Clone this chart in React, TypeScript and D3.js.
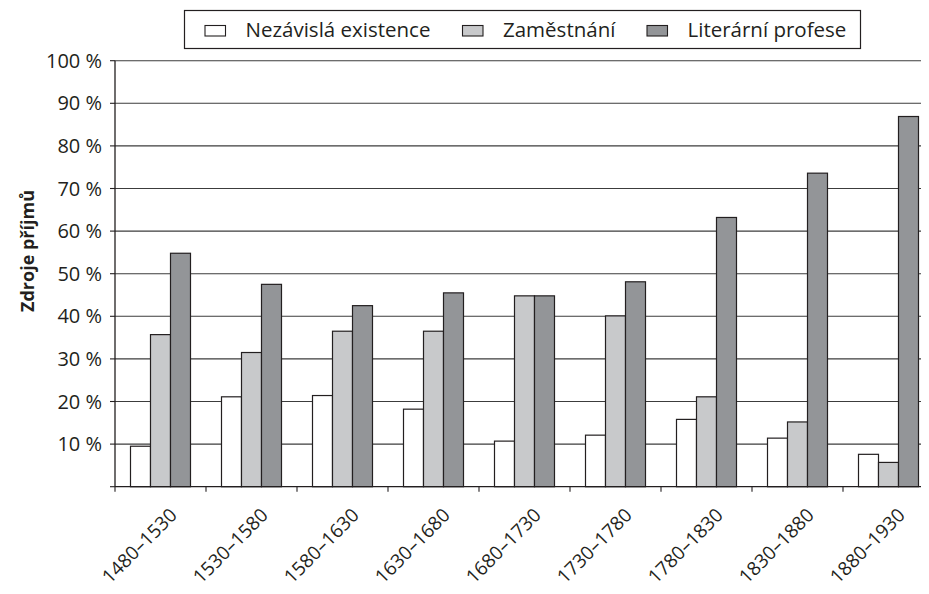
import React from "react";
import * as d3 from "d3";

const categories = ["1480–1530","1530–1580","1580–1630","1630–1680","1680–1730","1730–1780","1780–1830","1830–1880","1880–1930"];
const seriesNames = ["Nezávislá existence","Zaměstnání","Literární profese"];
const nezavisla = [9.5,21.1,21.4,18.2,10.7,12.1,15.8,11.4,7.6];
const zamestnani = [35.7,31.5,36.5,36.5,44.8,40.1,21.1,15.2,5.7];
const literarni = [54.8,47.5,42.5,45.5,44.8,48.1,63.2,73.6,86.9];
const yTicks = [10,20,30,40,50,60,70,80,90,100];
const yTitle = "Zdroje příjmů";

const fills = ["#ffffff","#c8c9cb","#939598"];
const FONT = "'Open Sans', 'DejaVu Sans', sans-serif";

export default function App() {
  const W = 929, H = 594;
  const left = 115, right = 934, top = 60.7, bottom = 486.7;
  const series = [nezavisla, zamestnani, literarni];
  const x = d3.scaleBand<string>().domain(categories).range([left, right]).padding(0);
  const inner = d3.scaleBand<number>().domain([0,1,2]).range([0, x.bandwidth()]).paddingOuter(0.775).paddingInner(0);
  const y = d3.scaleLinear().domain([0,100]).range([bottom, top]);
  const boundaries = categories.map((c) => x(c)!);
  const legendSwatch = [205, 462.5, 647];
  return (
    <div style={{margin:-8}}>
      <svg width={W} height={H} style={{display:"block", background:"#fff"}}>
        {yTicks.map((t) => (
          <line key={"g"+t} x1={left} x2={right} y1={y(t)} y2={y(t)} stroke="#3c3c3c" strokeWidth={1.1} />
        ))}
        {categories.map((c, i) => (
          <g key={c}>
            {series.map((s, k) => (
              <rect key={k} x={x(c)! + inner(k)!} y={y(s[i])} width={inner.bandwidth()} height={bottom - y(s[i])}
                fill={fills[k]} stroke="#231f20" strokeWidth={1.2} />
            ))}
          </g>
        ))}
        <line x1={left} x2={left} y1={top} y2={bottom} stroke="#231f20" strokeWidth={1.3} />
        <line x1={left} x2={right} y1={bottom} y2={bottom} stroke="#231f20" strokeWidth={1.3} />
        {[0, ...yTicks].map((t) => (
          <line key={"yt"+t} x1={left-5} x2={left} y1={y(t)} y2={y(t)} stroke="#231f20" strokeWidth={1.1} />
        ))}
        {boundaries.map((b, i) => (
          <line key={"xt"+i} x1={b} x2={b} y1={bottom} y2={bottom+5} stroke="#231f20" strokeWidth={1.1} />
        ))}
        {yTicks.map((t) => (
          <text key={"yl"+t} x={left-13} y={y(t)} dy="0.35em" textAnchor="end" fontFamily={FONT} fontSize={20} fill="#231f20">{t} %</text>
        ))}
        {categories.map((c) => {
          const cx = x(c)! + x.bandwidth()/2;
          return (
            <text key={"xl"+c} transform={`translate(${cx+13},${bottom+25}) rotate(-45)`} textAnchor="end" dy="0.35em"
              fontFamily={FONT} fontSize={19} fill="#231f20">{c}</text>
          );
        })}
        <text transform={`translate(28,251) rotate(-90)`} textAnchor="middle" dy="0.35em"
          fontFamily={FONT} fontSize={18} fontWeight="bold" fill="#231f20">{yTitle}</text>
        <rect x={184.5} y={10.5} width={676} height={38} fill="#fff" stroke="#231f20" strokeWidth={1.2} />
        {seriesNames.map((n, k) => {
          const lx = legendSwatch[k];
          return (
            <g key={n}>
              <rect x={lx} y={25.5} width={20.5} height={10.5} fill={fills[k]} stroke="#231f20" strokeWidth={1.1} />
              <text x={lx+40.5} y={30} dy="0.35em" fontFamily={FONT} fontSize={20.5} fill="#231f20">{n}</text>
            </g>
          );
        })}
      </svg>
    </div>
  );
}
